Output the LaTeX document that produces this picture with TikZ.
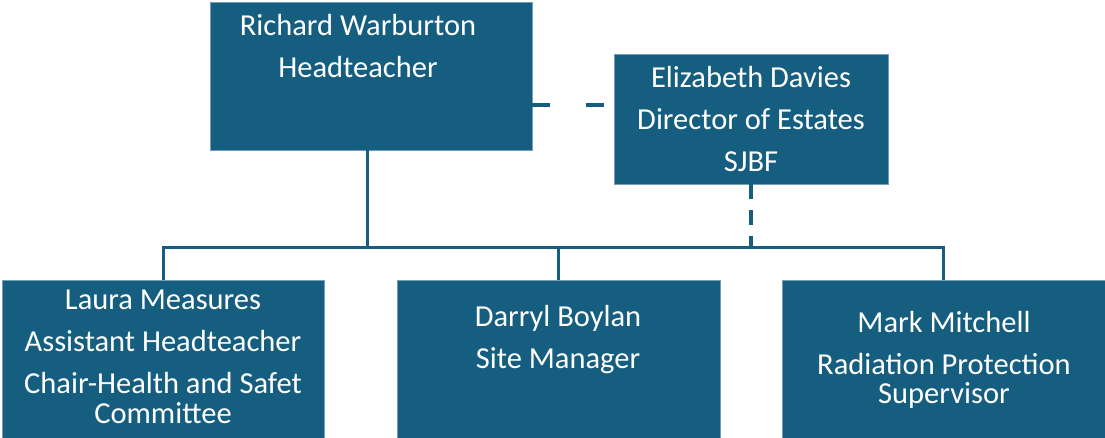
\documentclass[tikz,border=0pt]{standalone}
\usepackage{fontspec}
\setmainfont{Carlito}
\definecolor{teal1}{RGB}{22,94,128}
\begin{document}
\begin{tikzpicture}[x=1pt,y=-1pt,
  box/.style={draw=teal1!60!white,line width=0.8pt,fill=teal1,inner sep=0pt},
  lbl/.style={text=white,font=\fontsize{30.5}{29.5}\selectfont,align=center,anchor=north,inner sep=0pt},
  conn/.style={draw=teal1,line width=3pt},
  dashh/.style={draw=teal1,line width=3.2pt,dash pattern=on 18pt off 36pt},
  dashv/.style={draw=teal1,line width=3.2pt,dash pattern=on 15pt off 11pt}]
\useasboundingbox (0,0) rectangle (1105,437);
\clip (0,0) rectangle (1105,437);
% boxes
\node[box,minimum width=322pt,minimum height=148pt] (head) at (371,76) {};
\node[box,minimum width=274pt,minimum height=130pt] (eliz) at (751,119) {};
\node[box,minimum width=322pt,minimum height=180pt] (laura) at (163,370) {};
\node[box,minimum width=323pt,minimum height=180pt] (darryl) at (558.5,370) {};
\node[box,minimum width=323pt,minimum height=180pt] (mark) at (943.5,370) {};
% texts
\node[lbl] (headt) at (358,14) {Richard Warburton\\[13pt]Headteacher};
\node[lbl] (elizt) at (751,66) {Elizabeth Davies\\[12.5pt]Director of Estates\\[12.5pt]SJBF};
\node[lbl] (laurat) at (163,290) {Laura Measures\\[12.5pt]Assistant Headteacher\\[12.5pt]Chair-Health and Safet\\Committee};
\node[lbl] (darrylt) at (558,305) {Darryl Boylan\\[12.5pt]Site Manager};
\node[lbl] (markt) at (944,311) {Mark Mitchell\\[12.5pt]Radiation Protection\\Supervisor};
% connectors
\coordinate (bus) at (0,247);
\draw[conn] ([xshift=-4pt]head.south) -- ([xshift=-4pt]head.south |- bus);
\draw[conn] (laura.north) -- (laura.north |- bus) -| (mark.north);
\draw[conn] (darryl.north) -- (darryl.north |- bus);
\draw[dashh] ([yshift=-29pt]head.east) -- ([yshift=-29pt]head.east -| eliz.west);
\draw[dashv] (eliz.south) -- (eliz.south |- bus);
\end{tikzpicture}
\end{document}
